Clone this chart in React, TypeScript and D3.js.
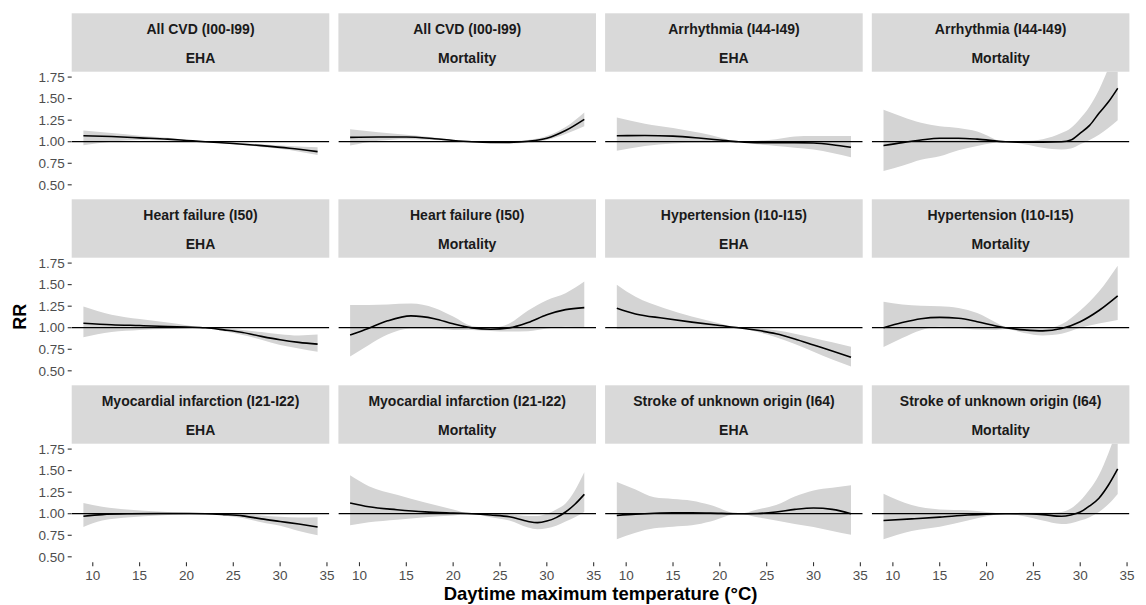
import React from 'react'
import * as d3 from 'd3'

// [temperature, RR, lower, upper]
const cvdEHA = [[9, 1.07, 0.96, 1.13], [12, 1.06, 1.0, 1.1], [15, 1.045, 1.02, 1.07], [18, 1.03, 1.015, 1.045], [20, 1.015, 1.008, 1.022], [22, 1.0, 1.0, 1.0], [25, 0.98, 0.97, 0.99], [28, 0.955, 0.94, 0.97], [31, 0.925, 0.905, 0.95], [34, 0.885, 0.845, 0.935]]
const cvdMort = [[9, 1.05, 0.955, 1.145], [12, 1.055, 1.01, 1.11], [15, 1.055, 1.03, 1.08], [18, 1.035, 1.02, 1.05], [20, 1.015, 1.008, 1.022], [22, 1.0, 1.0, 1.0], [24, 0.993, 0.985, 1.0], [26, 0.993, 0.98, 1.005], [28, 1.005, 0.99, 1.02], [30, 1.04, 1.02, 1.065], [32, 1.13, 1.09, 1.17], [34, 1.26, 1.18, 1.34]]
const arrEHA = [[9, 1.07, 0.895, 1.28], [12, 1.072, 0.95, 1.21], [15, 1.065, 0.98, 1.16], [18, 1.04, 0.99, 1.1], [20, 1.02, 0.995, 1.05], [22, 1.0, 1.0, 1.0], [24, 0.99, 0.97, 1.01], [26, 0.99, 0.95, 1.03], [28, 0.99, 0.93, 1.06], [30, 0.985, 0.91, 1.065], [32, 0.965, 0.87, 1.065], [34, 0.935, 0.82, 1.065]]
const arrMort = [[9, 0.955, 0.66, 1.37], [11, 0.99, 0.72, 1.29], [13, 1.02, 0.79, 1.22], [15, 1.04, 0.83, 1.18], [17, 1.04, 0.9, 1.16], [19, 1.03, 0.95, 1.12], [22, 1.0, 1.0, 1.0], [24, 0.995, 0.97, 1.01], [26, 0.995, 0.93, 1.03], [28, 1.0, 0.91, 1.1], [29, 1.02, 0.92, 1.16], [30, 1.1, 0.97, 1.27], [31, 1.19, 1.02, 1.41], [32, 1.33, 1.08, 1.6], [33, 1.46, 1.16, 1.85], [34, 1.62, 1.25, 2.1]]
const hfEHA = [[9, 1.052, 0.89, 1.245], [12, 1.035, 0.95, 1.15], [15, 1.025, 0.975, 1.1], [18, 1.015, 0.985, 1.06], [20, 1.008, 0.99, 1.03], [22, 1.0, 1.0, 1.0], [24, 0.975, 0.96, 0.99], [26, 0.945, 0.915, 0.975], [28, 0.9, 0.86, 0.95], [30, 0.86, 0.8, 0.925], [32, 0.83, 0.76, 0.91], [34, 0.81, 0.72, 0.92]]
const hfMort = [[9, 0.915, 0.665, 1.265], [11, 0.995, 0.8, 1.265], [13, 1.08, 0.92, 1.27], [15.5, 1.137, 0.99, 1.28], [18, 1.105, 0.99, 1.23], [20, 1.045, 0.975, 1.13], [22, 0.998, 0.975, 1.02], [24, 0.982, 0.962, 1.0], [26, 0.998, 0.955, 1.05], [28, 1.06, 0.96, 1.2], [30, 1.15, 0.99, 1.32], [32, 1.21, 1.01, 1.4], [34, 1.233, 1.0, 1.535]]
const htEHA = [[9, 1.226, 0.985, 1.5], [11, 1.16, 0.99, 1.36], [14, 1.11, 0.995, 1.23], [17, 1.065, 0.998, 1.13], [20, 1.025, 1.0, 1.05], [22, 1.0, 1.0, 1.0], [24, 0.97, 0.95, 0.99], [26, 0.93, 0.89, 0.97], [28, 0.87, 0.81, 0.93], [30, 0.8, 0.72, 0.88], [32, 0.73, 0.63, 0.83], [34, 0.658, 0.55, 0.78]]
const htMort = [[9, 1.0, 0.775, 1.3], [11, 1.06, 0.88, 1.27], [13, 1.105, 0.97, 1.255], [15, 1.12, 1.01, 1.25], [17, 1.11, 1.0, 1.23], [19, 1.07, 0.98, 1.17], [21, 1.02, 0.975, 1.06], [22, 1.0, 0.985, 1.01], [24, 0.975, 0.94, 0.995], [26, 0.963, 0.91, 0.99], [28, 0.99, 0.93, 1.04], [30, 1.07, 1.0, 1.2], [32, 1.2, 1.05, 1.42], [34, 1.37, 1.09, 1.72]]
const miEHA = [[9, 0.97, 0.846, 1.124], [11, 0.99, 0.92, 1.08], [14, 1.0, 0.96, 1.045], [17, 1.003, 0.98, 1.025], [20, 1.002, 0.993, 1.01], [22, 1.0, 1.0, 1.0], [24, 0.99, 0.98, 1.0], [26, 0.975, 0.95, 0.995], [28, 0.94, 0.9, 0.98], [30, 0.91, 0.86, 0.965], [32, 0.88, 0.8, 0.955], [34, 0.846, 0.75, 0.96]]
const miMort = [[9, 1.124, 0.865, 1.445], [11, 1.08, 0.9, 1.32], [14, 1.047, 0.93, 1.22], [17, 1.022, 0.96, 1.13], [20, 1.008, 0.98, 1.05], [22, 1.0, 1.0, 1.0], [24, 0.985, 0.96, 1.0], [26, 0.965, 0.92, 0.995], [28, 0.91, 0.84, 0.975], [29, 0.897, 0.82, 0.975], [30, 0.915, 0.83, 1.0], [31, 0.955, 0.86, 1.05], [32, 1.02, 0.91, 1.12], [33, 1.11, 0.96, 1.27], [34, 1.225, 1.02, 1.48]]
const strokeEHA = [[9, 0.98, 0.703, 1.368], [11, 0.995, 0.78, 1.28], [13, 1.005, 0.83, 1.19], [15, 1.01, 0.85, 1.17], [17, 1.01, 0.865, 1.15], [19, 1.007, 0.91, 1.1], [22, 1.0, 1.0, 1.0], [24, 1.003, 0.96, 1.05], [26, 1.02, 0.92, 1.1], [28, 1.05, 0.88, 1.2], [30, 1.066, 0.845, 1.27], [32, 1.05, 0.8, 1.3], [34, 1.0, 0.756, 1.33]]
const strokeMort = [[9, 0.922, 0.703, 1.232], [12, 0.94, 0.8, 1.1], [15, 0.96, 0.85, 1.05], [18, 0.985, 0.92, 1.04], [20, 0.995, 0.97, 1.02], [22, 1.0, 1.0, 1.0], [24, 1.0, 0.97, 1.01], [26, 0.99, 0.92, 1.01], [28, 0.97, 0.88, 1.02], [29, 0.985, 0.89, 1.06], [30, 1.02, 0.92, 1.15], [31, 1.09, 0.96, 1.28], [32, 1.18, 1.02, 1.45], [33, 1.33, 1.11, 1.7], [34, 1.52, 1.23, 2.0]]

const causes = ['All CVD (I00-I99)', 'Arrhythmia (I44-I49)', 'Heart failure (I50)', 'Hypertension (I10-I15)', 'Myocardial infarction (I21-I22)', 'Stroke of unknown origin (I64)']
const outcomes = ['EHA', 'Mortality']
const series = [cvdEHA, cvdMort, arrEHA, arrMort, hfEHA, hfMort, htEHA, htMort, miEHA, miMort, strokeEHA, strokeMort]
const xTicks = [10, 15, 20, 25, 30, 35]
const yTicks = [0.5, 0.75, 1.0, 1.25, 1.5, 1.75]

const W = 1146
const H = 605
const left0 = 71.7
const panelW = 257.6
const colStep = 266.7
const top0 = 13.3
const stripH = 58.4
const plotH = 118.5
const rowStep = 186
const font = '"Liberation Sans", Arial, sans-serif'

export default function App() {
  const x = d3.scaleLinear().domain([7.75, 35.25]).range([0, panelW])
  const y = d3.scaleLinear().domain([0.4375, 1.8125]).range([plotH, 0])
  const area = d3.area<number[]>().x(d => x(d[0])).y0(d => y(d[2])).y1(d => y(d[3])).curve(d3.curveMonotoneX)
  const line = d3.line<number[]>().x(d => x(d[0])).y(d => y(d[1])).curve(d3.curveMonotoneX)
  const fmt = d3.format('.2f')

  const panels = series.map((data, i) => {
    const row = Math.floor(i / 4)
    const col = i % 4
    const cause = causes[row * 2 + Math.floor(col / 2)]
    const outcome = outcomes[col % 2]
    const px = left0 + col * colStep
    const sy = top0 + row * rowStep
    const py = sy + stripH
    return { data, row, col, cause, outcome, px, sy, py, id: `clip${i}` }
  })

  const bottomY = top0 + 2 * rowStep + stripH + plotH

  return (
    <svg width={W} height={H} style={{ position: 'absolute', left: 0, top: 0, background: '#fff' }} fontFamily={font}>
      <defs>
        {panels.map(p => (
          <clipPath key={p.id} id={p.id}>
            <rect x={0} y={0} width={panelW} height={plotH} />
          </clipPath>
        ))}
      </defs>
      {panels.map(p => (
        <g key={p.id}>
          {/* strips */}
          <rect x={p.px} y={p.sy} width={panelW} height={stripH} fill="#d9d9d9" />
          <text x={p.px + panelW / 2} y={p.sy + 20.5} textAnchor="middle" fontSize={14} fontWeight="bold" fill="#1a1a1a">{p.cause}</text>
          <text x={p.px + panelW / 2} y={p.sy + 49.7} textAnchor="middle" fontSize={14} fontWeight="bold" fill="#1a1a1a">{p.outcome}</text>
          <g transform={`translate(${p.px},${p.py})`}>
            <g clipPath={`url(#${p.id})`}>
              <path d={area(p.data) || ''} fill="#d4d4d4" />
              <line x1={0} x2={panelW} y1={y(1)} y2={y(1)} stroke="#000" strokeWidth={1.2} />
              <path d={line(p.data) || ''} fill="none" stroke="#000" strokeWidth={1.6} />
            </g>
            {p.col === 0 && yTicks.map(t => (
              <g key={t} transform={`translate(0,${y(t)})`}>
                <line x1={-4} x2={0} stroke="#333" strokeWidth={1.1} />
                <text x={-7} dy="0.35em" textAnchor="end" fontSize={13.5} fill="#4d4d4d">{fmt(t)}</text>
              </g>
            ))}
            {p.row === 2 && xTicks.map(t => (
              <g key={t} transform={`translate(${x(t)},${plotH})`}>
                <line y1={0} y2={4} stroke="#333" strokeWidth={1.1} />
                <text y={18} textAnchor="middle" fontSize={13.5} fill="#4d4d4d">{t}</text>
              </g>
            ))}
          </g>
        </g>
      ))}
      <text x={20} y={316.7} transform="rotate(-90,20,316.7)" dy="0.35em" textAnchor="middle" fontSize={18} fontWeight="bold" fill="#000">RR</text>
      <text x={left0 + (3 * colStep + panelW) / 2} y={bottomY + 37.5} textAnchor="middle" fontSize={18.5} fontWeight="bold" fill="#000">Daytime maximum temperature (°C)</text>
    </svg>
  )
}
